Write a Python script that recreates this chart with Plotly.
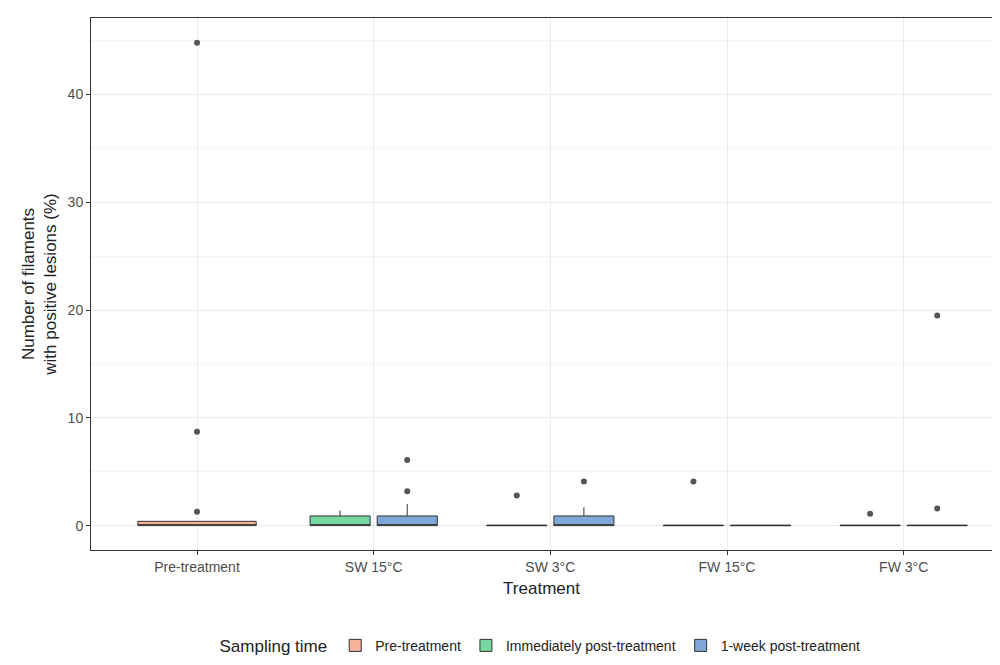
import plotly.graph_objects as go

categories = ["Pre-treatment", "SW 15°C", "SW 3°C", "FW 15°C", "FW 3°C"]
groups = ["Pre-treatment", "Immediately post-treatment", "1-week post-treatment"]
colors = {"Pre-treatment": "#F7B29A", "Immediately post-treatment": "#78D6A0", "1-week post-treatment": "#7FA8D8"}

# (category index, group, q1, median, q3, lower, upper, outliers)
boxes = [
    (1, "Pre-treatment", 0, 0, 0.4, 0, 0.4, [1.3, 8.7, 44.8]),
    (2, "Immediately post-treatment", 0, 0, 0.9, 0, 1.4, []),
    (2, "1-week post-treatment", 0, 0, 0.9, 0, 2.0, [3.2, 6.1]),
    (3, "Immediately post-treatment", 0, 0, 0.05, 0, 0.05, [2.8]),
    (3, "1-week post-treatment", 0, 0, 0.9, 0, 1.7, [4.1]),
    (4, "Immediately post-treatment", 0, 0, 0.05, 0, 0.05, [4.1]),
    (4, "1-week post-treatment", 0, 0, 0.05, 0, 0.05, []),
    (5, "Immediately post-treatment", 0, 0, 0.05, 0, 0.05, [1.1]),
    (5, "1-week post-treatment", 0, 0, 0.05, 0, 0.05, [1.6, 19.5]),
]

offsets = {"Pre-treatment": 0.0, "Immediately post-treatment": -0.19, "1-week post-treatment": 0.19}
widths = {"Pre-treatment": 0.67, "Immediately post-treatment": 0.34, "1-week post-treatment": 0.34}

fig = go.Figure()
shown = set()
for ci, g, q1, med, q3, lo, up, outs in boxes:
    x = ci + offsets[g]
    fig.add_trace(go.Box(
        x=[x], q1=[q1], median=[med], q3=[q3], lowerfence=[lo], upperfence=[up],
        width=widths[g], fillcolor=colors[g], line=dict(color="#333333", width=1),
        name=g, legendgroup=g, showlegend=g not in shown, boxpoints=False, whiskerwidth=0,
    ))
    shown.add(g)
    if outs:
        fig.add_trace(go.Scatter(x=[x] * len(outs), y=outs, mode="markers",
                                 marker=dict(color="#555555", size=6), showlegend=False, hoverinfo="y"))

fig.update_layout(
    width=1000, height=665, plot_bgcolor="white", paper_bgcolor="white",
    font=dict(family="Liberation Sans, Arial, sans-serif", size=14, color="#222"),
    margin=dict(l=83, r=16, t=10, b=118), boxmode="overlay",
    legend=dict(orientation="h", x=0.5, xanchor="center", y=-0.15, yanchor="top",
                title=dict(text="Sampling time", font=dict(size=17)), font=dict(size=14)),
    xaxis=dict(range=[0.4, 5.5], tickvals=[1, 2, 3, 4, 5], ticktext=categories,
               title=dict(text="Treatment", font=dict(size=17), standoff=8), showgrid=True, gridcolor="#EBEBEB",
               zeroline=False, showline=True, mirror=True, linecolor="#333", ticks="outside",
               tickcolor="#333", ticklen=4, tickfont=dict(color="#4D4D4D", size=14)),
    yaxis=dict(range=[-2.26, 47.1], tickvals=[0, 10, 20, 30, 40],
               title=dict(text="Number of filaments<br>with positive lesions (%)", font=dict(size=17), standoff=6),
               showgrid=True, gridcolor="#EBEBEB", zeroline=False, showline=True, mirror=True,
               linecolor="#333", ticks="outside", tickcolor="#333", ticklen=4,
               tickfont=dict(color="#4D4D4D", size=14),
               minor=dict(tickvals=[5, 15, 25, 35, 45], showgrid=True, gridcolor="#F4F4F4", ticks="")),
)
fig.write_html("out.html")
